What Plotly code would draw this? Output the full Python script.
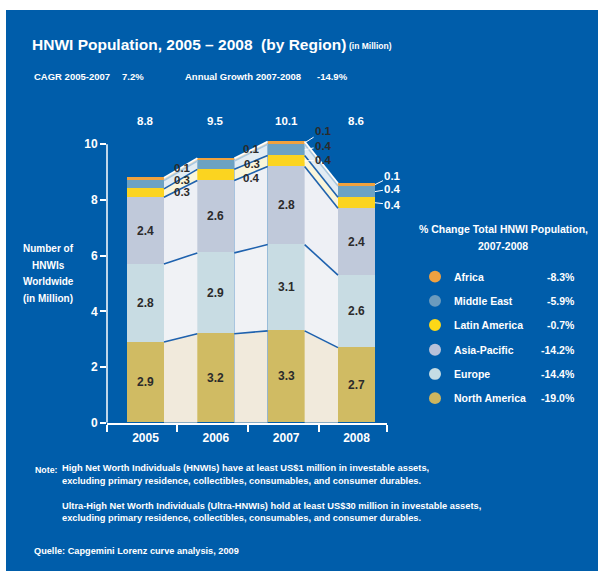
import plotly.graph_objects as go

# ---------------- data ----------------
years = ["2005", "2006", "2007", "2008"]
totals = [8.8, 9.5, 10.1, 8.6]
regions = ["North America", "Europe", "Asia-Pacific", "Latin America", "Middle East", "Africa"]
north_america = [2.9, 3.2, 3.3, 2.7]
europe = [2.8, 2.9, 3.1, 2.6]
asia_pacific = [2.4, 2.6, 2.8, 2.4]
latin_america = [0.3, 0.4, 0.4, 0.4]
middle_east = [0.3, 0.3, 0.4, 0.4]
africa = [0.1, 0.1, 0.1, 0.1]
change_2007_2008 = {"Africa": "-8.3%", "Middle East": "-5.9%", "Latin America": "-0.7%",
                    "Asia-Pacific": "-14.2%", "Europe": "-14.4%", "North America": "-19.0%"}
cagr_label = "7.2%"
annual_growth_label = "-14.9%"
y_ticks = [0, 2, 4, 6, 8, 10]

series = [north_america, europe, asia_pacific, latin_america, middle_east, africa]

# ---------------- style ----------------
FONT = "Liberation Sans, Arial, sans-serif"
BLUE = "#005DAA"
DARK = "#2b2b2b"
bar_colors = ["#D0BB63", "#C8DCE3", "#C0C9DA", "#FBD420", "#6CA2C3", "#F0A23E"]
gap_colors = ["#F1EADC", "#F0F2F5", "#EEF0F5", "#FAF5DA", "#E2ECF3", "#F6E2C4"]
line_colors = ["#1F62AE", "#1F62AE", "#1F62AE", "#1F62AE", "#A9C8E0", "#FFFFFF"]
legend_colors = {"Africa": "#EFA141", "Middle East": "#6B9BBE", "Latin America": "#FCD817",
                 "Asia-Pacific": "#B8C1D9", "Europe": "#C4DCE4", "North America": "#CDB55E"}

W, H = 600, 581
BW = 0.526  # bar width in category units
xs = list(range(len(years)))
Y_TOP = 10.35
PX_PER_UNIT = (428 - 146) / 10.0


def px(x):
    return x / W


def py(y):
    return 1 - y / H


fig = go.Figure()

# cumulative bottoms / tops
bottoms, tops = [], []
run = [0.0] * len(years)
for s in series:
    bottoms.append(run[:])
    run = [r + v for r, v in zip(run, s)]
    tops.append(run[:])

# gap fills between bars
for k, s in enumerate(series):
    gx, gy = [], []
    for i in range(len(years) - 1):
        x0, x1 = i + BW / 2, i + 1 - BW / 2
        gx += [x0, x0, x1, x1, x0, None]
        gy += [bottoms[k][i], tops[k][i], tops[k][i + 1], bottoms[k][i + 1], bottoms[k][i], None]
    fig.add_trace(go.Scatter(x=gx, y=gy, mode="lines", fill="toself", fillcolor=gap_colors[k],
                             line=dict(width=0), hoverinfo="skip", showlegend=False))

# boundary lines in the gaps
for k, s in enumerate(series):
    lx, ly = [], []
    for i in range(len(years) - 1):
        lx += [i + BW / 2, i + 1 - BW / 2, None]
        ly += [tops[k][i], tops[k][i + 1], None]
    fig.add_trace(go.Scatter(x=lx, y=ly, mode="lines",
                             line=dict(color=line_colors[k], width=1.6),
                             hoverinfo="skip", showlegend=False))

# stacked bars
for k, s in enumerate(series):
    txt = [f"{v:.1f}" if v >= 1 else "" for v in s]
    fig.add_trace(go.Bar(x=xs, y=s, name=regions[k], width=BW,
                         marker=dict(color=bar_colors[k], line=dict(width=0)),
                         text=txt, textposition="inside", insidetextanchor="middle",
                         textangle=0,
                         textfont=dict(family=FONT, size=12, color=DARK, weight="bold"),
                         showlegend=False, hoverinfo="skip"))

ann = []


def text(x, y, t, size=10, color="white", xanchor="left", bold=True, **kw):
    ann.append(dict(x=px(x), y=py(y), xref="paper", yref="paper", text=t, showarrow=False,
                    xanchor=xanchor, yanchor="middle",
                    font=dict(family=FONT, size=size, color=color, weight="bold" if bold else "normal"),
                    **kw))


# titles
text(30, 45, "HNWI Population, 2005 – 2008  (by Region)", size=15.5)
text(347, 47, "(in Million)", size=8.5)
text(32, 77, "CAGR 2005-2007", size=9.5)
text(120, 77, cagr_label, size=9.5)
text(183, 77, "Annual Growth 2007-2008", size=9.5)
text(315, 77, annual_growth_label, size=9.5)

# totals above bars
for i, t in enumerate(totals):
    ann.append(dict(x=xs[i], y=py(122), xref="x", yref="paper", text=f"{t:.1f}", showarrow=False,
                    xanchor="center", yanchor="middle",
                    font=dict(family=FONT, size=11.5, color="white", weight="bold")))

# small-segment labels in gaps (2005, 2006)
small = [africa, middle_east, latin_america]
for i, (xoff, shifts) in enumerate([(0.52, [1, -11, -23]), (0.51, [2, -13, -27])]):
    base = (tops[5][i] - africa[i] / 2 + tops[5][i + 1] - africa[i + 1] / 2) / 2
    for j, s in enumerate(small):
        ann.append(dict(x=i + xoff, y=base, xref="x", yref="y", text=f"{s[i]:.1f}",
                        showarrow=False, yshift=shifts[j], xanchor="center", yanchor="middle",
                        font=dict(family=FONT, size=11.5, color=DARK, weight="bold")))

# labels with leader lines (2007 dark, 2008 white)
seg_idx = [5, 4, 3]
for i, col, offs in [(2, DARK, [(19, -12), (19, -4), (19, -1)]),
                     (3, "white", [(18, -9), (18, -3), (18, 2)])]:
    for j, k in enumerate(seg_idx):
        mid = tops[k][i] - series[k][i] / 2
        ann.append(dict(x=i + BW / 2, y=mid, xref="x", yref="y", text=f"{series[k][i]:.1f}",
                        showarrow=True, arrowhead=0, arrowwidth=1, arrowcolor="white",
                        ax=offs[j][0], ay=offs[j][1], standoff=0,
                        font=dict(family=FONT, size=11.5, color=col, weight="bold")))

# y-axis title
for t, y in zip(["Number of", "HNWIs", "Worldwide", "(in Million)"], [252, 269, 285, 302]):
    text(48, y, t, size=10, xanchor="center")

# legend
text(503, 232, "% Change Total HNWI Population,", size=10.5, xanchor="center")
text(503, 249, "2007-2008", size=10.5, xanchor="center")
shapes = [dict(type="rect", xref="paper", yref="paper", x0=px(6), x1=px(598), y0=py(578), y1=py(10),
               fillcolor=BLUE, line=dict(width=0), layer="below"),
          # y axis line from 0 to the top tick
          dict(type="line", xref="paper", yref="y", x0=px(107), x1=px(107), y0=0, y1=y_ticks[-1],
               line=dict(color="white", width=1.5))]
leg_y = [280, 304.5, 329, 354, 378.5, 403]
for name, y in zip(["Africa", "Middle East", "Latin America", "Asia-Pacific", "Europe", "North America"], leg_y):
    shapes.append(dict(type="circle", xref="paper", yref="paper", x0=px(429), x1=px(441),
                       y0=py(y + 6), y1=py(y - 6), fillcolor=legend_colors[name], line=dict(width=0)))
    text(452, y, name, size=10.5)
    text(577, y, change_2007_2008[name], size=10.5, xanchor="right")

# notes
NS = 9.3
text(33, 476, "Note:", size=8.8)
text(60, 474, "High Net Worth Individuals (HNWIs) have at least US$1 million in investable assets,", size=NS)
text(60, 487, "excluding primary residence, collectibles, consumables, and consumer durables.", size=NS)
text(60, 512, "Ultra-High Net Worth Individuals (Ultra-HNWIs) hold at least US$30 million in investable assets,", size=NS)
text(60, 524, "excluding primary residence, collectibles, consumables, and consumer durables.", size=NS)
text(32, 558, "Quelle: Capgemini Lorenz curve analysis, 2009", size=9.2)

x_lo, x_hi = -0.547, 3.434
fig.update_layout(
    width=W, height=H, margin=dict(l=0, r=0, t=0, b=0),
    paper_bgcolor="white", plot_bgcolor="rgba(0,0,0,0)",
    barmode="stack", bargap=0, showlegend=False,
    annotations=ann, shapes=shapes,
    xaxis=dict(domain=[px(107), px(387)], range=[x_lo, x_hi], tickvals=xs, ticktext=years,
               ticks="", showgrid=False, zeroline=False, showline=True, linecolor="white", linewidth=1.5,
               tickfont=dict(family=FONT, size=12, color="white", weight="bold"),
               ticklabelstandoff=3,
               minor=dict(tickvals=[x_lo + 0.005, 0.448, 1.457, 2.467, x_hi - 0.005], ticks="outside",
                          ticklen=7, tickcolor="white", tickwidth=1.5, showgrid=False)),
    yaxis=dict(domain=[py(428), py(428 - Y_TOP * PX_PER_UNIT)], range=[0, Y_TOP], tickvals=y_ticks,
               ticks="outside", ticklen=6, tickcolor="white", tickwidth=1.5,
               showgrid=False, zeroline=False, showline=False,
               tickfont=dict(family=FONT, size=12, color="white", weight="bold")),
)

fig.write_html("out.html")
